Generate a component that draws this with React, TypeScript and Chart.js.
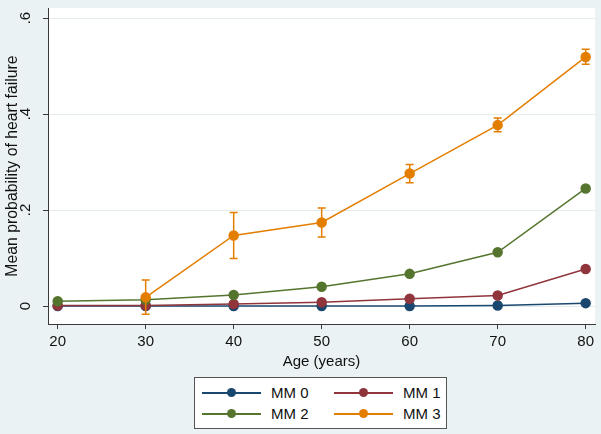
import React, { useEffect, useRef } from 'react';
import { Chart, registerables } from 'chart.js';
Chart.register(...registerables);

const ages = [20, 30, 40, 50, 60, 70, 80];
const seriesNames = ['MM 0', 'MM 1', 'MM 2', 'MM 3'];
const mm0 = [0.0, 0.0, 0.0, 0.0, 0.0, 0.001, 0.006];
const mm1 = [0.001, 0.001, 0.004, 0.008, 0.015, 0.022, 0.077];
const mm2 = [0.010, 0.013, 0.023, 0.040, 0.067, 0.112, 0.245];
const mm3 = [null, 0.018, 0.147, 0.174, 0.276, 0.377, 0.519];
const mm3Lo = [null, -0.017, 0.099, 0.144, 0.257, 0.363, 0.504];
const mm3Hi = [null, 0.054, 0.195, 0.204, 0.295, 0.392, 0.535];
const yTicks = [0, 0.2, 0.4, 0.6];
const xTicks = [20, 30, 40, 50, 60, 70, 80];

const COLORS = ['#1a476f', '#90353b', '#55752f', '#e37e00'];
const BG = '#eaf2f3';
const AXIS = '#3a3a3a';
const FONT = '"Liberation Sans", Arial, Helvetica, sans-serif';

const plotBg = {
  id: 'plotBg',
  beforeDraw(chart: any) {
    const { ctx, chartArea: a } = chart;
    ctx.save();
    ctx.fillStyle = '#ffffff';
    ctx.fillRect(a.left, a.top, a.right - a.left, a.bottom - a.top);
    ctx.restore();
  },
};

const errorBars = {
  id: 'errorBars',
  afterDatasetsDraw(chart: any) {
    const { ctx } = chart;
    const x = chart.scales.x;
    const y = chart.scales.y;
    ctx.save();
    ctx.strokeStyle = COLORS[3];
    ctx.lineWidth = 1.5;
    ages.forEach((a, i) => {
      const lo = mm3Lo[i];
      const hi = mm3Hi[i];
      if (lo == null || hi == null) return;
      const px = x.getPixelForValue(a);
      const pt = y.getPixelForValue(hi);
      const pb = y.getPixelForValue(lo);
      ctx.beginPath();
      ctx.moveTo(px, pt);
      ctx.lineTo(px, pb);
      ctx.moveTo(px - 4, pt);
      ctx.lineTo(px + 4, pt);
      ctx.moveTo(px - 4, pb);
      ctx.lineTo(px + 4, pb);
      ctx.stroke();
    });
    ctx.restore();
  },
};

function toPts(vals: (number | null)[]) {
  return ages.map((a, i) => ({ x: a, y: vals[i] }));
}

export default function App() {
  const ref = useRef<HTMLCanvasElement>(null);
  useEffect(() => {
    if (!ref.current) return;
    const all = [mm0, mm1, mm2, mm3];
    const chart = new Chart(ref.current, {
      type: 'line',
      data: {
        datasets: all.map((vals, i) => ({
          label: seriesNames[i],
          data: toPts(vals) as any,
          borderColor: COLORS[i],
          backgroundColor: COLORS[i],
          pointBackgroundColor: COLORS[i],
          pointBorderColor: COLORS[i],
          pointRadius: 4.5,
          borderWidth: 1.5,
          tension: 0,
          spanGaps: false,
          order: 4 - i,
        })),
      },
      options: {
        animation: false,
        responsive: false,
        devicePixelRatio: 1,
        layout: { padding: { left: 0, right: 4, top: 8, bottom: 60 } },
        plugins: { legend: { display: false }, tooltip: { enabled: false } },
        scales: {
          x: {
            type: 'linear',
            min: 18.9,
            max: 81.06,
            afterBuildTicks: (s: any) => { s.ticks = xTicks.map((v) => ({ value: v })); },
            afterFit: (s: any) => { s.height = 50; s.paddingLeft = 0; s.paddingRight = 0; },
            ticks: { color: '#111', font: { family: FONT, size: 15 }, padding: 4, maxRotation: 0, minRotation: 0 },
            grid: { drawOnChartArea: false, drawTicks: true, tickLength: 5, tickColor: AXIS, tickWidth: 1 },
            border: { display: true, color: AXIS, width: 1 },
            title: { display: true, text: 'Age (years)', color: '#111', font: { family: FONT, size: 15 }, padding: { top: 0, bottom: 3 } },
          },
          y: {
            type: 'linear',
            min: -0.0375,
            max: 0.621,
            afterBuildTicks: (s: any) => { s.ticks = yTicks.map((v) => ({ value: v })); },
            afterFit: (s: any) => { s.width = 48; s.paddingTop = 0; s.paddingBottom = 0; },
            ticks: {
              color: '#111',
              font: { family: FONT, size: 15 },
              padding: 11,
              minRotation: 90,
              maxRotation: 90,
              crossAlign: 'center',
              callback: (v: any) => (v === 0 ? '0' : String(Number(v).toFixed(1)).replace(/^0/, '')),
            },
            grid: { color: '#e2ecee', lineWidth: 1, drawTicks: true, tickLength: 5, tickColor: AXIS, tickWidth: 1 },
            border: { display: true, color: AXIS, width: 1 },
            title: { display: true, text: 'Mean probability of heart failure', color: '#111', font: { family: FONT, size: 15.8 }, padding: { top: 3, bottom: 0 } },
          },
        },
      } as any,
      plugins: [plotBg, errorBars],
    });
    return () => chart.destroy();
  }, []);

  const entry = (i: number, left: number, top: number) => (
    <div key={i} style={{ position: 'absolute', left, top, height: 20, width: 120 }}>
      <div style={{ position: 'absolute', left: 0, top: 9, width: 59, height: 1.5, background: COLORS[i] }} />
      <div style={{ position: 'absolute', left: 25, top: 5, width: 9, height: 9, borderRadius: '50%', background: COLORS[i] }} />
      <div style={{ position: 'absolute', left: 69, top: 0, lineHeight: '20px', fontSize: 15, fontFamily: FONT, color: '#111', whiteSpace: 'nowrap' }}>{seriesNames[i]}</div>
    </div>
  );

  return (
    <div style={{ position: 'absolute', left: 0, top: 0, width: 601, height: 434, background: BG, overflow: 'hidden' }}>
      <canvas ref={ref} width={601} height={434} style={{ display: 'block', width: 601, height: 434 }} />
      <div style={{ position: 'absolute', left: 194, top: 377, width: 251, height: 50, background: '#fff', border: '1px solid #555' }}>
        {entry(0, 7, 5)}
        {entry(1, 139, 5)}
        {entry(2, 7, 26)}
        {entry(3, 139, 26)}
      </div>
    </div>
  );
}
